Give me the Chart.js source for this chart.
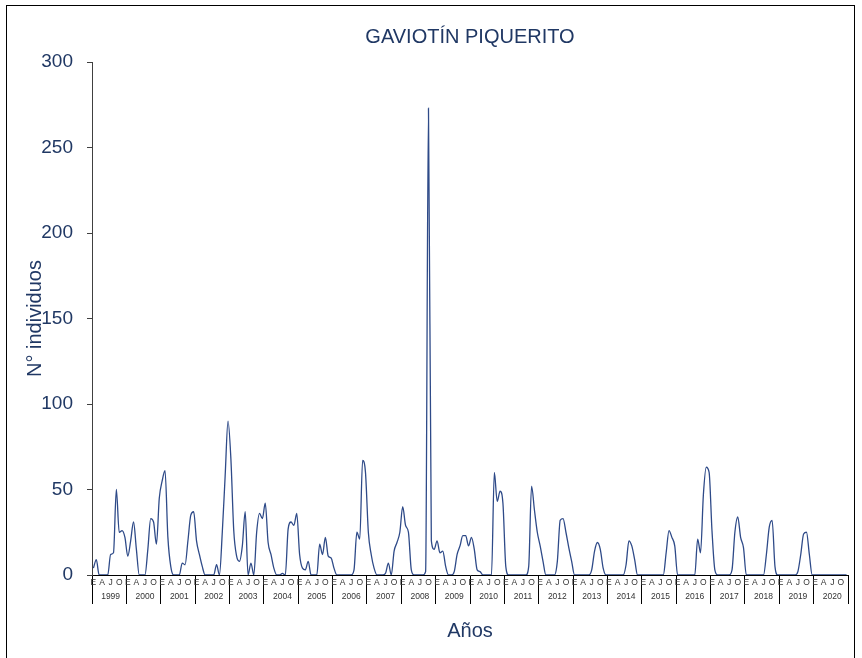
<!DOCTYPE html>
<html>
<head>
<meta charset="utf-8">
<script src="https://cdn.jsdelivr.net/npm/chart.js@4.4.1/dist/chart.umd.min.js"></script>
<style>
  html, body { margin: 0; padding: 0; background: #fff; }
  #wrap { position: relative; width: 862px; height: 658px; }
  #frame { position: absolute; left: 6px; top: 5px; width: 849px; height: 700px; border: 1px solid #000; box-sizing: border-box; pointer-events: none; }
</style>
</head>
<body>
<div id="wrap">
  <canvas id="chart" width="862" height="658"></canvas>
  <div id="frame"></div>
</div>
<script>
const years = ['1999', '2000', '2001', '2002', '2003', '2004', '2005', '2006', '2007', '2008', '2009',
  '2010', '2011', '2012', '2013', '2014', '2015', '2016', '2017', '2018', '2019', '2020'];
const monthLetters = ['E', '', '', 'A', '', '', 'J', '', '', 'O', '', ''];
const yTicks = [0, 50, 100, 150, 200, 250, 300];

// monthly counts, one row per year (Jan..Dec)
const individuos = [
  4, 9, 0, 0, 0, 0, 12, 13, 50, 25, 26, 22,      // 1999
  11, 20, 31, 15, 0, 0, 0, 15, 33, 31, 18, 45,   // 2000
  55, 61, 22, 5, 0, 0, 0, 7, 6, 20, 35, 37,      // 2001
  20, 12, 5, 0, 0, 0, 0, 6, 0, 25, 58, 90,       // 2002
  68, 26, 11, 8, 17, 37, 0, 7, 0, 25, 36, 33,    // 2003
  42, 19, 12, 4, 0, 0, 1, 0, 27, 31, 29, 36,     // 2004
  12, 4, 3, 8, 0, 0, 0, 18, 12, 22, 11, 10,      // 2005
  4, 0, 0, 0, 0, 0, 0, 3, 25, 21, 67, 60,        // 2006
  25, 12, 4, 0, 0, 0, 1, 7, 0, 14, 19, 25,       // 2007
  40, 29, 25, 3, 0, 0, 0, 0, 2, 273, 20, 15,     // 2008
  20, 13, 14, 5, 0, 0, 2, 12, 17, 23, 23, 17,    // 2009
  22, 15, 3, 2, 0, 0, 0, 0, 60, 43, 49, 42,      // 2010
  5, 0, 0, 0, 0, 0, 0, 0, 5, 52, 38, 25,         // 2011
  17, 8, 0, 0, 0, 0, 8, 32, 33, 25, 16, 8,       // 2012
  0, 0, 0, 0, 0, 0, 3, 14, 19, 15, 4, 0,         // 2013
  0, 0, 0, 0, 0, 0, 6, 20, 17, 9, 0, 0,          // 2014
  0, 0, 0, 0, 0, 0, 0, 0, 13, 26, 22, 17,        // 2015
  0, 0, 0, 0, 0, 0, 0, 21, 13, 47, 63, 60,       // 2016
  26, 3, 0, 0, 0, 0, 0, 3, 25, 34, 22, 16,       // 2017
  0, 0, 0, 0, 0, 0, 0, 12, 28, 32, 5, 0,         // 2018
  0, 0, 0, 0, 0, 0, 2, 12, 24, 25, 12, 0,        // 2019
  0, 0, 0, 0, 0, 0, 0, 0, 0, 0, 0, 0             // 2020
];

const navy = '#203864';
const fontFamily = "'Liberation Sans', Arial, sans-serif";

// two-line tick labels: month letter, then year under July
const labels = [];
years.forEach(y => {
  monthLetters.forEach((m, i) => labels.push([m, i === 6 ? y : '']));
});

const ctx = document.getElementById('chart').getContext('2d');
new Chart(ctx, {
  type: 'line',
  data: {
    labels: labels,
    datasets: [{
      data: individuos,
      borderColor: '#2E4A88',
      borderWidth: 1.3,
      pointRadius: 0,
      fill: false,
      cubicInterpolationMode: 'monotone'
    }]
  },
  options: {
    responsive: false,
    animation: false,
    layout: { padding: { left: 0, right: 14, top: 0, bottom: 0 } },
    plugins: {
      legend: { display: false },
      tooltip: { enabled: false },
      title: {
        display: true,
        fullSize: false,
        text: 'GAVIOTÍN PIQUERITO',
        color: navy,
        font: { family: fontFamily, size: 20, weight: 'normal' },
        padding: { top: 25, bottom: 13 }
      }
    },
    scales: {
      x: {
        type: 'category',
        offset: true,
        grid: {
          offset: true,
          drawOnChartArea: false,
          drawTicks: true,
          tickLength: 29,
          lineWidth: 1,
          color: c => (c.index === undefined || c.index % 12 === 0) ? '#000' : 'rgba(0,0,0,0)'
        },
        border: { display: true, color: '#000', width: 1 },
        ticks: {
          autoSkip: false,
          maxRotation: 0,
          minRotation: 0,
          padding: -28,
          color: '#333',
          font: { family: fontFamily, size: 8.5, lineHeight: 1.65 }
        },
        title: {
          display: true,
          text: 'Años',
          color: navy,
          font: { family: fontFamily, size: 20 },
          padding: { top: 0, bottom: 15 }
        },
        afterFit: s => { s.height = 83; }
      },
      y: {
        min: 0,
        max: 300,
        afterBuildTicks: s => { s.ticks = yTicks.map(v => ({ value: v })); },
        grid: { drawOnChartArea: false, drawTicks: true, tickLength: 5, color: '#404040' },
        border: { display: true, color: '#404040', width: 1 },
        ticks: { padding: 14, color: navy, font: { family: fontFamily, size: 19 } },
        title: {
          display: true,
          text: 'N° individuos',
          color: navy,
          font: { family: fontFamily, size: 20 },
          padding: { top: 23, bottom: 0 }
        },
        afterFit: s => { s.width = 92; }
      }
    }
  }
});
</script>
</body>
</html>
